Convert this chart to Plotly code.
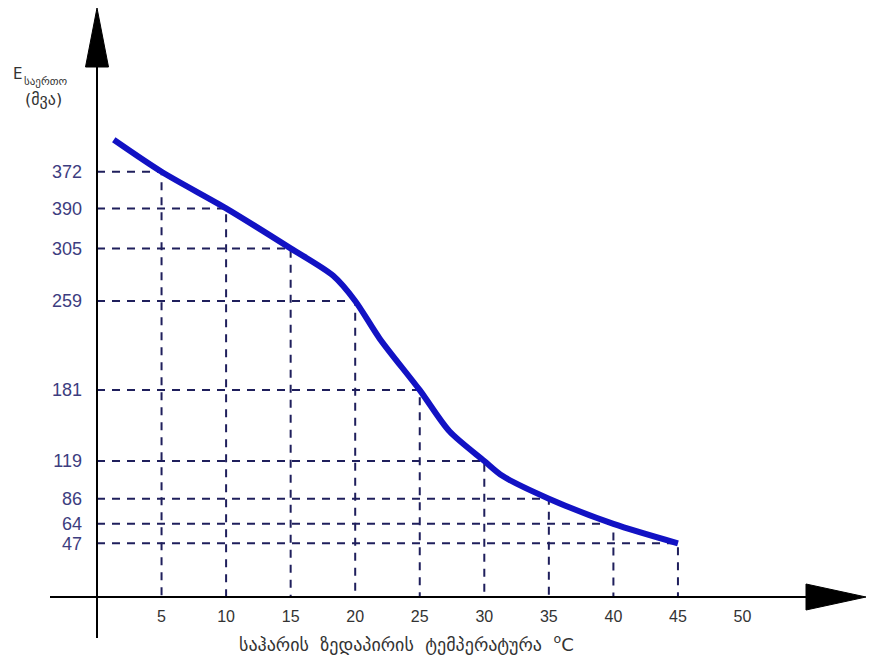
import plotly.graph_objects as go

# ---- data ----
temps = [1.3, 5, 10, 15, 18.3, 20, 21.9, 25, 27.3, 30, 31.4, 35, 40, 45]
energy = [400, 372, 340, 305, 281, 259, 226, 181, 145, 119, 106, 86, 64, 47]

guide_x = [5, 10, 15, 20, 25, 30, 35, 40, 45]
guide_y = [372, 340, 305, 259, 181, 119, 86, 64, 47]

ytick_vals = [372, 340, 305, 259, 181, 119, 86, 64, 47]
ytick_text = ["372", "390", "305", "259", "181", "119", "86", "64", "47"]
xtick_vals = [5, 10, 15, 20, 25, 30, 35, 40, 45, 50]
xtick_text = ["5", "10", "15", "20", "25", "30", "35", "40", "45", "50"]

x_title_words = ["საჰარის", "ზედაპირის", "ტემპერატურა"]
y_title_main = "E"
y_title_sub = "საერთო"
y_unit = "მვა"

W, H = 876, 658
L, B = 97, 61
PW, PH = W - L, H - B


def px(xp):
    return (xp - L) / PW


def py(yp):
    return (PH - yp) / PH


fig = go.Figure()

for gx, gy in zip(guide_x, guide_y):
    fig.add_trace(go.Scatter(
        x=[0, gx, gx], y=[gy, gy, 0], mode="lines",
        line=dict(color="#1f1f5c", width=2, dash="8px,7px"),
        hoverinfo="skip", showlegend=False))

fig.add_trace(go.Scatter(
    x=temps, y=energy, mode="lines",
    line=dict(color="#1212c4", width=6, shape="spline", smoothing=0.8),
    showlegend=False))

shapes = [
    # y axis line and arrow
    dict(type="line", xref="paper", yref="paper", x0=px(97), x1=px(97), y0=py(638), y1=py(40),
         line=dict(color="black", width=2)),
    dict(type="path", xref="paper", yref="paper",
         path=f"M {px(97)} {py(8)} L {px(108.5)} {py(67)} L {px(85.5)} {py(67)} Z",
         fillcolor="black", line=dict(color="black", width=1)),
    # x axis line and arrow
    dict(type="line", xref="paper", yref="paper", x0=px(50), x1=px(820), y0=py(597), y1=py(597),
         line=dict(color="black", width=2)),
    dict(type="path", xref="paper", yref="paper",
         path=f"M {px(866)} {py(597)} L {px(806)} {py(584)} L {px(806)} {py(610)} Z",
         fillcolor="black", line=dict(color="black", width=1)),
]

annotations = [
    dict(xref="paper", yref="paper", x=px(406), y=py(643), xanchor="center", yanchor="middle",
         text="\u00a0\u00a0".join(x_title_words) + "\u00a0\u00a0<sup>o</sup>C", showarrow=False,
         font=dict(family="DejaVu Sans", size=18, color="#333333")),
    dict(xref="paper", yref="paper", x=px(11), y=py(74), xanchor="left", yanchor="middle",
         text=y_title_main, showarrow=False,
         font=dict(family="DejaVu Sans", size=15, color="#333333")),
    dict(xref="paper", yref="paper", x=px(22), y=py(82), xanchor="left", yanchor="middle",
         text=y_title_sub, showarrow=False,
         font=dict(family="DejaVu Sans", size=11, color="#333333")),
    dict(xref="paper", yref="paper", x=px(23), y=py(100), xanchor="left", yanchor="middle",
         text="(" + y_unit + ")", showarrow=False,
         font=dict(family="DejaVu Sans", size=16, color="#333333")),
]

fig.update_layout(
    width=W, height=H,
    margin=dict(l=L, r=0, t=0, b=B, pad=0),
    paper_bgcolor="white", plot_bgcolor="white",
    shapes=shapes, annotations=annotations,
    xaxis=dict(range=[0, PW / 12.91], showgrid=False, zeroline=False, showline=False,
               tickmode="array", tickvals=xtick_vals, ticktext=xtick_text, ticks="",
               ticklabelstandoff=8,
               tickfont=dict(family="Liberation Sans", size=16, color="#333333")),
    yaxis=dict(range=[0, PH / 1.143], showgrid=False, zeroline=False, showline=False,
               tickmode="array", tickvals=ytick_vals, ticktext=ytick_text, ticks="",
               ticklabelstandoff=14,
               tickfont=dict(family="Liberation Sans", size=18, color="#3d3d80")),
)

fig.write_html("out.html", config={"displayModeBar": False},
               post_script="document.body.style.margin='0';")
